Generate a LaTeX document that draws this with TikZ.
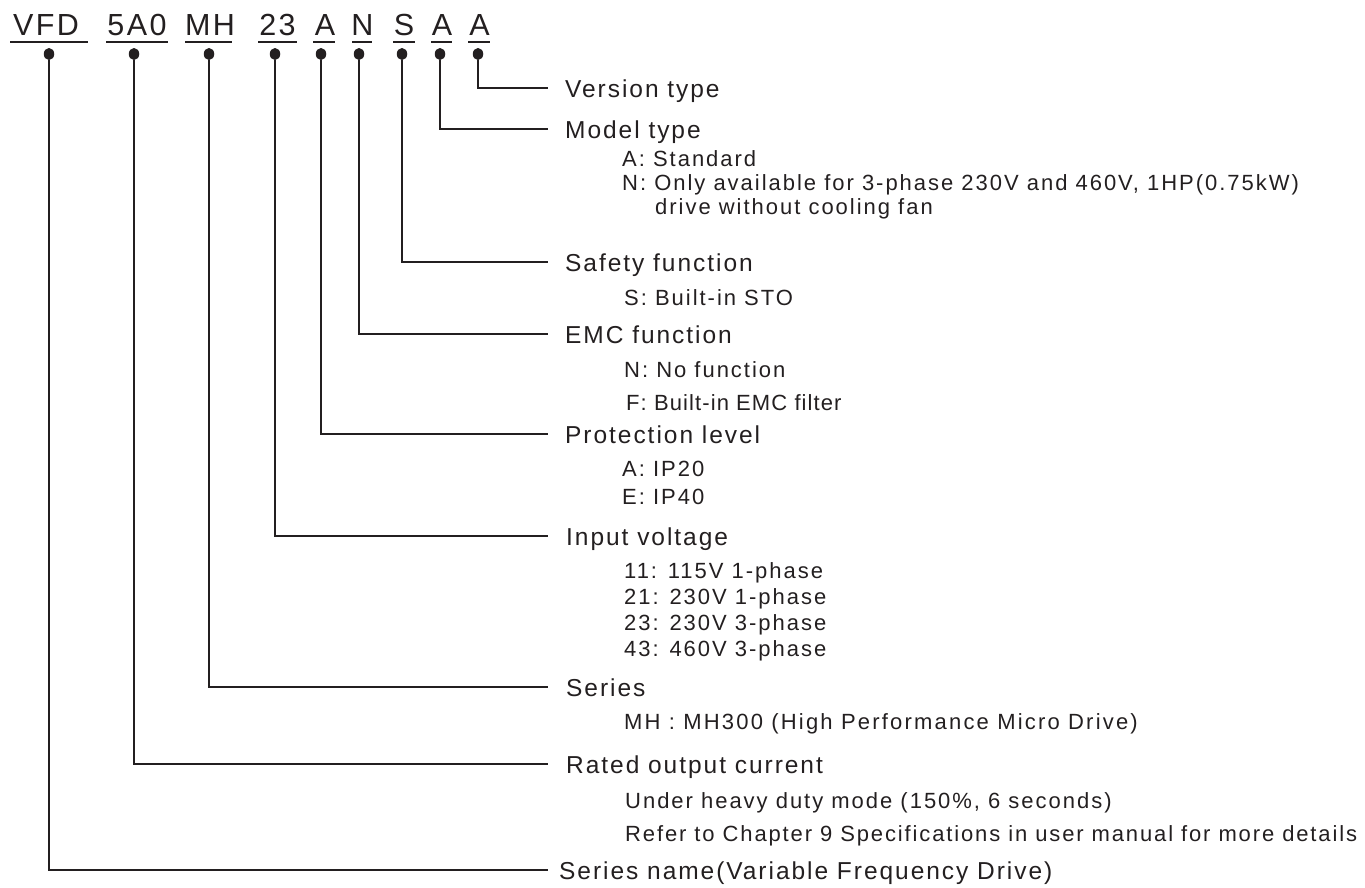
\documentclass[tikz,border=0pt]{standalone}
\usepackage{fontspec}
\setmainfont{Liberation Sans}
\newfontfamily\hdfont{Liberation Sans}[LetterSpace=8]
\newfontfamily\bfam{Liberation Sans}
\newcommand\fz[2]{\bfam\fontsize{#1}{#1}\selectfont\addfontfeature{LetterSpace=#2}}
\definecolor{ink}{HTML}{231F20}
\usetikzlibrary{shapes.geometric}
\begin{document}
\begin{tikzpicture}[x=1pt,y=-1pt,
  ln/.style={line width=1.6pt, color=ink},
  ul/.style={line width=1.5pt, color=ink},
  code/.style={anchor=base, inner sep=0pt, text=ink, font=\hdfont\fontsize{30.5}{34}\selectfont},
  dotnode/.style={ellipse, fill=ink, minimum width=10.5pt, minimum height=12pt, inner sep=0pt},
  lab/.style={anchor=base west, inner sep=0pt, text=ink, font=\fz{24.5}{8}},
  sub/.style={anchor=base west, inner sep=0pt, text=ink, font=\fz{22}{9}}]
\path[use as bounding box] (0,0) rectangle (1365,887);
% header codes
\node[code] (c1) at (46,35) {VFD};
\node[code] (c2) at (137,35) {5A0};
\node[code] (c3) at (210,35) {MH};
\node[code] (c4) at (277.5,35) {23};
\node[code] (c5) at (325,35) {A};
\node[code] (c6) at (362.5,35) {N};
\node[code] (c7) at (404,35) {S};
\node[code] (c8) at (442,35) {A};
\node[code] (c9) at (479.5,35) {A};
\foreach \a/\b in {10/88,106/168,185/232,258/297,313/335,352/372,393/415,431/452,468/490}
  \draw[ul] (\a,42) -- (\b,42);
% dots
\node[dotnode] (d1) at (49,54) {};
\node[dotnode] (d2) at (134,54) {};
\node[dotnode] (d3) at (209,54) {};
\node[dotnode] (d4) at (275,54) {};
\node[dotnode] (d5) at (321,54) {};
\node[dotnode] (d6) at (359,54) {};
\node[dotnode] (d7) at (402,54) {};
\node[dotnode] (d8) at (440,54) {};
\node[dotnode] (d9) at (478,54) {};
% line ends
\coordinate (e9) at (548,88);
\coordinate (e8) at (548,129);
\coordinate (e7) at (548,262);
\coordinate (e6) at (548,334);
\coordinate (e5) at (548,434);
\coordinate (e4) at (548,536);
\coordinate (e3) at (548,687);
\coordinate (e2) at (548,764);
\coordinate (e1) at (548,870);
\foreach \i in {1,...,9} \draw[ln] (d\i) |- (e\i);
% labels
\node[lab] (L9) at (565,97) {Version type};
\node[lab] (L8) at (565,138) {Model type};
\node[sub] (s81) at (622,166) {A: Standard};
\node[sub] (s82) at (622,190) {N: Only available for 3-phase 230V and 460V, 1HP(0.75kW)};
\node[sub] (s83) at (655,214) {drive without cooling fan};
\node[lab] (L7) at (565,271) {Safety function};
\node[sub] (s71) at (624,305) {S: Built-in STO};
\node[lab] (L6) at (565,343) {EMC function};
\node[sub] (s61) at (624,377) {N: No function};
\node[sub, font=\fz{22}{5}] (s62) at (626,410) {F: Built-in EMC filter};
\node[lab] (L5) at (565,443) {Protection level};
\node[sub] (s51) at (622,476) {A: IP20};
\node[sub] (s52) at (622,504) {E: IP40};
\node[lab] (L4) at (566,545) {Input voltage};
\node[sub] (s41) at (624,578) {11: 115V 1-phase};
\node[sub] (s42) at (624,604) {21: 230V 1-phase};
\node[sub] (s43) at (624,630) {23: 230V 3-phase};
\node[sub] (s44) at (624,656) {43: 460V 3-phase};
\node[lab] (L3) at (566,696) {Series};
\node[sub, font=\fz{22}{10}] (s31) at (624,729) {MH : MH300 (High Performance Micro Drive)};
\node[lab] (L2) at (566,773) {Rated output current};
\node[sub] (s21) at (625,808) {Under heavy duty mode (150\%, 6 seconds)};
\node[sub, font=\fz{22}{8.5}] (s22) at (625,841) {Refer to Chapter 9 Specifications in user manual for more details};
\node[lab] (L1) at (559,879) {Series name(Variable Frequency Drive)};
\end{tikzpicture}
\end{document}
